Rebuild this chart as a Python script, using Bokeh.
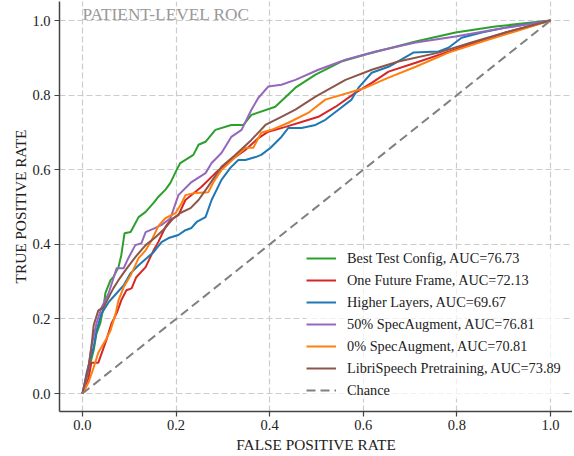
from bokeh.plotting import figure
from bokeh.models import Range1d, FixedTicker, Legend, LegendItem, Label
from bokeh.embed import file_html
from bokeh.resources import INLINE

TITLE = "PATIENT-LEVEL ROC"
X_LABEL = "FALSE POSITIVE RATE"
Y_LABEL = "TRUE POSITIVE RATE"
TICKS = [0.0, 0.2, 0.4, 0.6, 0.8, 1.0]
TICK_LABELS = ["0.0", "0.2", "0.4", "0.6", "0.8", "1.0"]

# Best Test Config
BEST_FPR = [0.0, 0.002, 0.013, 0.024, 0.030, 0.038, 0.045, 0.049, 0.060, 0.066, 0.077, 0.083, 0.090, 0.103,
            0.120, 0.135, 0.152, 0.162, 0.177, 0.188, 0.201, 0.209, 0.237, 0.248, 0.263, 0.284, 0.318, 0.344,
            0.361, 0.412, 0.455, 0.498, 0.553, 0.605, 0.712, 0.797, 0.882, 1.0]
BEST_TPR = [0.0, 0.008, 0.062, 0.116, 0.161, 0.188, 0.231, 0.269, 0.304, 0.312, 0.339, 0.371, 0.430, 0.433,
            0.473, 0.487, 0.511, 0.527, 0.546, 0.565, 0.599, 0.618, 0.640, 0.667, 0.675, 0.707, 0.720, 0.720,
            0.747, 0.769, 0.820, 0.855, 0.890, 0.909, 0.944, 0.968, 0.984, 1.0]

# One Future Frame
ONE_FPR = [0.0, 0.002, 0.013, 0.019, 0.034, 0.041, 0.051, 0.062, 0.073, 0.083, 0.094, 0.105, 0.115, 0.135,
           0.152, 0.162, 0.177, 0.188, 0.205, 0.220, 0.254, 0.284, 0.312, 0.348, 0.376, 0.397, 0.434, 0.468,
           0.504, 0.541, 0.583, 0.618, 0.654, 0.712, 0.776, 0.840, 0.904, 1.0]
ONE_TPR = [0.0, 0.008, 0.040, 0.083, 0.083, 0.108, 0.143, 0.188, 0.215, 0.250, 0.277, 0.282, 0.312, 0.339,
           0.384, 0.406, 0.446, 0.465, 0.478, 0.519, 0.554, 0.591, 0.621, 0.653, 0.685, 0.702, 0.715, 0.728,
           0.742, 0.769, 0.806, 0.833, 0.863, 0.887, 0.914, 0.941, 0.968, 1.0]

# Higher Layers
HIGH_FPR = [0.0, 0.002, 0.009, 0.017, 0.024, 0.030, 0.041, 0.056, 0.073, 0.088, 0.103, 0.120, 0.137, 0.152,
            0.169, 0.184, 0.205, 0.220, 0.233, 0.244, 0.263, 0.276, 0.297, 0.316, 0.333, 0.348, 0.370, 0.382,
            0.402, 0.425, 0.440, 0.468, 0.498, 0.519, 0.547, 0.575, 0.590, 0.618, 0.654, 0.707, 0.761, 0.782,
            0.810, 0.853, 0.904, 1.0]
HIGH_TPR = [0.0, 0.008, 0.056, 0.094, 0.124, 0.169, 0.215, 0.245, 0.269, 0.290, 0.323, 0.344, 0.363, 0.379,
            0.406, 0.417, 0.425, 0.438, 0.444, 0.460, 0.473, 0.519, 0.573, 0.605, 0.626, 0.626, 0.634, 0.640,
            0.659, 0.688, 0.712, 0.712, 0.720, 0.734, 0.761, 0.788, 0.820, 0.860, 0.876, 0.914, 0.917, 0.927,
            0.954, 0.968, 0.981, 1.0]

# 50% SpecAugment
SPEC50_FPR = [0.0, 0.006, 0.013, 0.019, 0.030, 0.041, 0.056, 0.073, 0.088, 0.098, 0.113, 0.126, 0.135, 0.156,
              0.169, 0.188, 0.205, 0.233, 0.263, 0.276, 0.297, 0.318, 0.340, 0.361, 0.376, 0.397, 0.425, 0.455,
              0.504, 0.562, 0.626, 0.712, 0.797, 0.882, 1.0]
SPEC50_TPR = [0.0, 0.027, 0.070, 0.124, 0.188, 0.231, 0.269, 0.336, 0.336, 0.363, 0.398, 0.403, 0.433, 0.444,
              0.452, 0.470, 0.532, 0.567, 0.591, 0.618, 0.645, 0.688, 0.707, 0.761, 0.793, 0.823, 0.828, 0.841,
              0.868, 0.895, 0.917, 0.941, 0.957, 0.976, 1.0]

# 0% SpecAugment
SPEC0_FPR = [0.0, 0.002, 0.013, 0.024, 0.034, 0.049, 0.060, 0.071, 0.077, 0.088, 0.103, 0.120, 0.135, 0.148,
             0.162, 0.177, 0.199, 0.212, 0.220, 0.241, 0.269, 0.280, 0.297, 0.327, 0.348, 0.365, 0.382, 0.404,
             0.440, 0.483, 0.519, 0.605, 0.654, 0.712, 0.782, 0.868, 0.938, 1.0]
SPEC0_TPR = [0.0, 0.003, 0.030, 0.070, 0.110, 0.142, 0.169, 0.215, 0.250, 0.285, 0.317, 0.363, 0.384, 0.411,
             0.449, 0.470, 0.484, 0.511, 0.532, 0.538, 0.540, 0.567, 0.599, 0.634, 0.659, 0.659, 0.699, 0.707,
             0.726, 0.753, 0.788, 0.820, 0.847, 0.876, 0.914, 0.949, 0.976, 1.0]

# LibriSpeech Pretraining
LIBRI_FPR = [0.0, 0.002, 0.013, 0.019, 0.024, 0.034, 0.045, 0.056, 0.066, 0.077, 0.092, 0.113, 0.135, 0.156,
             0.177, 0.194, 0.209, 0.231, 0.248, 0.269, 0.297, 0.327, 0.361, 0.391, 0.425, 0.455, 0.498, 0.562,
             0.618, 0.675, 0.761, 0.831, 0.904, 1.0]
LIBRI_TPR = [0.0, 0.013, 0.070, 0.124, 0.183, 0.223, 0.231, 0.258, 0.282, 0.304, 0.331, 0.366, 0.398, 0.419,
             0.444, 0.470, 0.484, 0.497, 0.519, 0.556, 0.608, 0.640, 0.680, 0.720, 0.742, 0.761, 0.796, 0.841,
             0.868, 0.890, 0.914, 0.941, 0.968, 1.0]

CHANCE_FPR = [0.0, 1.0]
CHANCE_TPR = [0.0, 1.0]

SERIES_NAMES = ["Best Test Config, AUC=76.73", "One Future Frame, AUC=72.13", "Higher Layers, AUC=69.67",
                "50% SpecAugment, AUC=76.81", "0% SpecAugment, AUC=70.81", "LibriSpeech Pretraining, AUC=73.89"]
SERIES_X = [BEST_FPR, ONE_FPR, HIGH_FPR, SPEC50_FPR, SPEC0_FPR, LIBRI_FPR]
SERIES_Y = [BEST_TPR, ONE_TPR, HIGH_TPR, SPEC50_TPR, SPEC0_TPR, LIBRI_TPR]
COLORS = ["#2ca02c", "#d62728", "#1f77b4", "#9467bd", "#ff7f0e", "#8c564b"]
CHANCE_NAME = "Chance"

FONT = "Liberation Serif"

p = figure(width=572, height=455, x_range=Range1d(-0.049, 1.047), y_range=Range1d(-0.048, 1.051),
           output_backend="svg", toolbar_location=None,
           min_border_left=59, min_border_right=0, min_border_top=1, min_border_bottom=0)
p.outline_line_color = None
p.background_fill_color = "white"

for ax in (p.xaxis[0], p.yaxis[0]):
    ax.ticker = FixedTicker(ticks=TICKS)
    ax.major_label_overrides = {t: l for t, l in zip(TICKS, TICK_LABELS)}
    ax.axis_line_color = "#444444"
    ax.axis_line_width = 1.5
    ax.major_tick_line_color = "#444444"
    ax.major_tick_line_width = 1.2
    ax.major_tick_out = 5
    ax.major_tick_in = 0
    ax.minor_tick_line_color = None
    ax.major_label_text_font = FONT
    ax.major_label_text_font_size = "14.5px"
    ax.major_label_text_color = "#222222"
    ax.axis_label_text_font = FONT
    ax.axis_label_text_font_style = "normal"
    ax.axis_label_text_color = "#222222"
    ax.axis_label_text_font_size = "15.3px"
p.xaxis.axis_label = X_LABEL
p.yaxis.axis_label = Y_LABEL
p.xaxis.major_label_standoff = 3
p.yaxis.major_label_standoff = 4
p.xaxis.axis_label_standoff = 3
p.yaxis.axis_label_standoff = 0

for g in (p.xgrid[0], p.ygrid[0]):
    g.ticker = FixedTicker(ticks=TICKS)
    g.grid_line_color = "#cccccc"
    g.grid_line_dash = "6 3"
    g.grid_line_width = 1.2

items = []
for name, xs, ys, c in zip(SERIES_NAMES, SERIES_X, SERIES_Y, COLORS):
    r = p.line(xs, ys, line_color=c, line_width=2)
    items.append(LegendItem(label=name, renderers=[r]))
rc = p.line(CHANCE_FPR, CHANCE_TPR, line_color="#808080", line_width=2, line_dash="9 5")
items.append(LegendItem(label=CHANCE_NAME, renderers=[rc]))

legend = Legend(items=items, location=(247, 12), border_line_color=None,
                background_fill_color="white", background_fill_alpha=0.7,
                label_text_font=FONT, label_text_font_size="14.3px", label_text_color="#222222",
                glyph_width=30, glyph_height=18, label_height=18, spacing=4, padding=5,
                label_standoff=11, margin=0)
p.add_layout(legend)

p.add_layout(Label(x=0.0, y=1.051, x_units="data", y_units="data", text=TITLE,
                   text_font=FONT, text_font_size="17.3px", text_color="#999999",
                   text_baseline="top", text_align="left", y_offset=-3))

open("out.html", "w").write(file_html(p, INLINE))
